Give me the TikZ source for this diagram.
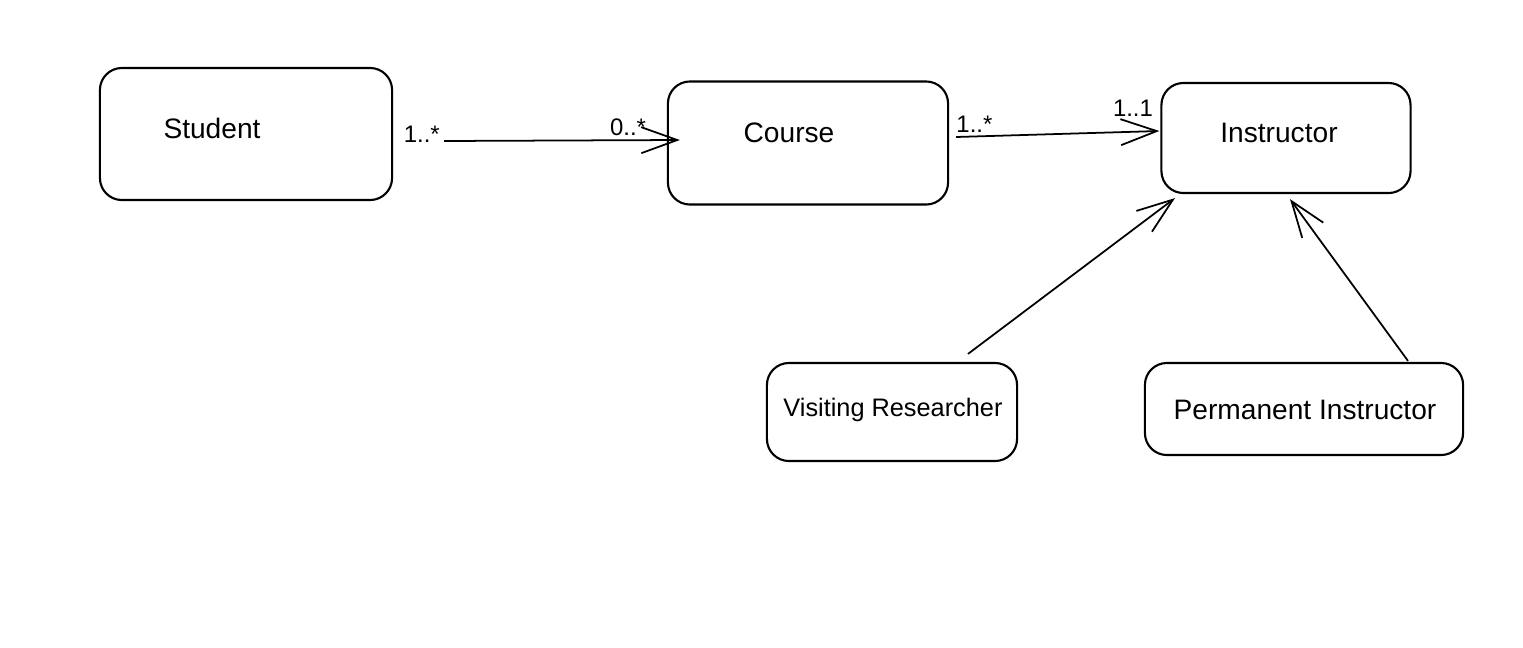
\documentclass[tikz,border=0pt]{standalone}
\usepackage{fontspec}
\setmainfont{Liberation Sans}
\usetikzlibrary{arrows.meta,calc}

\begin{document}
\begin{tikzpicture}[x=0.01cm,y=-0.01cm,->,>={Straight Barb[length=3.6mm,width=2.6mm]},line width=0.5pt,font=\fontsize{8}{10}\selectfont,box/.style={draw,rounded corners=2.2mm,line width=0.6pt}]

            \useasboundingbox (0,0) rectangle (1523,648);

            \node[box, minimum width=2.92cm, minimum height=1.32cm] (1) at (246,134) {};
            \node[box, minimum width=2.80cm, minimum height=1.23cm] (2) at (808,143) {};
            \node[box, minimum width=2.49cm, minimum height=1.10cm] (3) at (1286,138) {};
            \node[box, minimum width=2.50cm, minimum height=0.98cm] (4) at (892,412) {};
            \node[box, minimum width=3.18cm, minimum height=0.92cm] (5) at (1304,409) {};

            \node (1t) at (212,128) {Student};
            \node (2t) at (789,133) {Course};
            \node (3t) at (1279,133) {Instructor};
            \node[font=\fontsize{7.2}{9}\selectfont] (4t) at (893,410) {Visiting Researcher};
            \node (5t) at (1305,410) {Permanent Instructor};

            \path[every node/.style={inner sep=1pt, font=\fontsize{6.8}{8}\selectfont}]
                ($(1.east)+(51,7)$) edge node[at start, left, yshift=2pt]{1..*} node[pos=0.78, above]{0..*} ($(2.west)+(13,-3)$)
                ($(2.east)+(7,-6)$) edge node[pos=0.09, above]{1..*} node[pos=0.87, above, yshift=3pt]{1..1} ($(3.west)+(-1,-7)$)

                ($(4.north)+(76,-8)$) edge ($(3.south)+(-111,4)$)
                ($(5.north)+(104,-1)$) edge ($(3.south)+(4,5)$)
                ;
        \end{tikzpicture}
\end{document}
